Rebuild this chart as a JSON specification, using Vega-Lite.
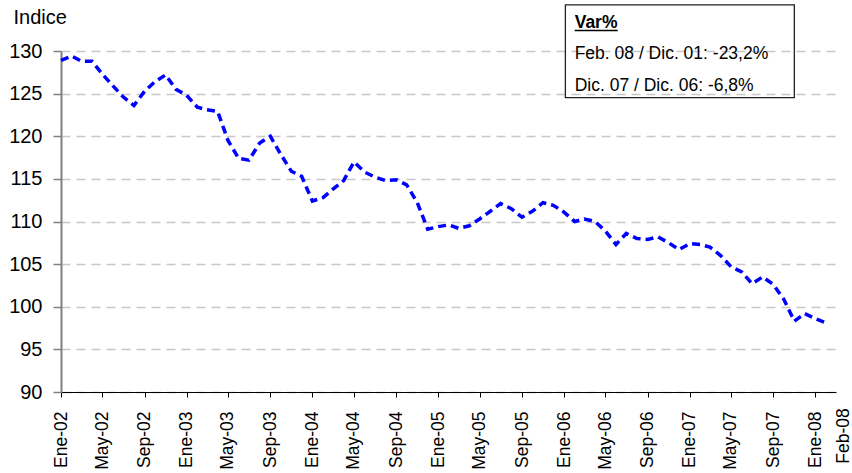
{
  "$schema": "https://vega.github.io/schema/vega-lite/v6.json",
  "width": 775,
  "height": 341,
  "autosize": {"type": "none"},
  "padding": {"left": 61, "top": 51, "right": 16, "bottom": 81},
  "background": "white",
  "config": {"view": {"stroke": null}, "font": "Liberation Sans"},
  "datasets": {
    "series": [
      {"date": "2002-01-01", "v": 128.9}, {"date": "2002-02-01", "v": 129.4}, {"date": "2002-03-01", "v": 128.8}, {"date": "2002-04-01", "v": 128.8},
      {"date": "2002-05-01", "v": 127.3}, {"date": "2002-06-01", "v": 125.9}, {"date": "2002-07-01", "v": 124.6}, {"date": "2002-08-01", "v": 123.6},
      {"date": "2002-09-01", "v": 125.3}, {"date": "2002-10-01", "v": 126.4}, {"date": "2002-11-01", "v": 127.2}, {"date": "2002-12-01", "v": 125.5},
      {"date": "2003-01-01", "v": 124.8}, {"date": "2003-02-01", "v": 123.4}, {"date": "2003-03-01", "v": 123.1}, {"date": "2003-04-01", "v": 122.9},
      {"date": "2003-05-01", "v": 119.5}, {"date": "2003-06-01", "v": 117.4}, {"date": "2003-07-01", "v": 117.2}, {"date": "2003-08-01", "v": 119.2},
      {"date": "2003-09-01", "v": 120.0}, {"date": "2003-10-01", "v": 117.9}, {"date": "2003-11-01", "v": 115.9}, {"date": "2003-12-01", "v": 115.3},
      {"date": "2004-01-01", "v": 112.4}, {"date": "2004-02-01", "v": 112.8}, {"date": "2004-03-01", "v": 113.8}, {"date": "2004-04-01", "v": 114.8},
      {"date": "2004-05-01", "v": 117.0}, {"date": "2004-06-01", "v": 115.8}, {"date": "2004-07-01", "v": 115.2}, {"date": "2004-08-01", "v": 114.8},
      {"date": "2004-09-01", "v": 114.9}, {"date": "2004-10-01", "v": 114.3}, {"date": "2004-11-01", "v": 112.2}, {"date": "2004-12-01", "v": 109.1},
      {"date": "2005-01-01", "v": 109.4}, {"date": "2005-02-01", "v": 109.6}, {"date": "2005-03-01", "v": 109.2}, {"date": "2005-04-01", "v": 109.5},
      {"date": "2005-05-01", "v": 110.3}, {"date": "2005-06-01", "v": 111.2}, {"date": "2005-07-01", "v": 112.1}, {"date": "2005-08-01", "v": 111.5},
      {"date": "2005-09-01", "v": 110.5}, {"date": "2005-10-01", "v": 111.2}, {"date": "2005-11-01", "v": 112.2}, {"date": "2005-12-01", "v": 111.9},
      {"date": "2006-01-01", "v": 111.1}, {"date": "2006-02-01", "v": 110.0}, {"date": "2006-03-01", "v": 110.3}, {"date": "2006-04-01", "v": 110.0},
      {"date": "2006-05-01", "v": 108.9}, {"date": "2006-06-01", "v": 107.3}, {"date": "2006-07-01", "v": 108.6}, {"date": "2006-08-01", "v": 108.0},
      {"date": "2006-09-01", "v": 107.9}, {"date": "2006-10-01", "v": 108.2}, {"date": "2006-11-01", "v": 107.5}, {"date": "2006-12-01", "v": 106.7},
      {"date": "2007-01-01", "v": 107.4}, {"date": "2007-02-01", "v": 107.3}, {"date": "2007-03-01", "v": 107.0}, {"date": "2007-04-01", "v": 106.0},
      {"date": "2007-05-01", "v": 104.7}, {"date": "2007-06-01", "v": 104.1}, {"date": "2007-07-01", "v": 102.7}, {"date": "2007-08-01", "v": 103.5},
      {"date": "2007-09-01", "v": 102.6}, {"date": "2007-10-01", "v": 100.9}, {"date": "2007-11-01", "v": 98.3}, {"date": "2007-12-01", "v": 99.2},
      {"date": "2008-01-01", "v": 98.6}, {"date": "2008-02-01", "v": 98.1}
    ],
    "box": [{"date": "2006-01-05", "date2": "2007-11-01", "v": 135.4, "v2": 124.52}],
    "head": [{"date": "2006-02-01", "v": 132.7, "text": "Var%"}],
    "notes": [
      {"date": "2006-02-01", "v": 129.06, "text": "Feb. 08 / Dic. 01: -23,2%"},
      {"date": "2006-02-01", "v": 125.34, "text": "Dic. 07 / Dic. 06: -6,8%"}
    ],
    "underline": [{"date": "2006-02-01", "date2": "2006-06-06", "v": 132.4}],
    "extra": [{"date": "2008-03-24", "v": 88.1, "text": "Feb-08"}]
  },
  "encoding": {
    "x": {
      "field": "date", "type": "temporal",
      "scale": {"type": "utc", "domain": [{"year": 2002, "month": 1, "date": 1, "utc": true}, {"year": 2008, "month": 3, "date": 1, "utc": true}], "nice": false},
      "axis": {
        "title": null, "grid": false,
        "values": [
          {"year": 2002, "month": 1, "date": 1, "utc": true}, {"year": 2002, "month": 5, "date": 1, "utc": true}, {"year": 2002, "month": 9, "date": 1, "utc": true},
          {"year": 2003, "month": 1, "date": 1, "utc": true}, {"year": 2003, "month": 5, "date": 1, "utc": true}, {"year": 2003, "month": 9, "date": 1, "utc": true},
          {"year": 2004, "month": 1, "date": 1, "utc": true}, {"year": 2004, "month": 5, "date": 1, "utc": true}, {"year": 2004, "month": 9, "date": 1, "utc": true},
          {"year": 2005, "month": 1, "date": 1, "utc": true}, {"year": 2005, "month": 5, "date": 1, "utc": true}, {"year": 2005, "month": 9, "date": 1, "utc": true},
          {"year": 2006, "month": 1, "date": 1, "utc": true}, {"year": 2006, "month": 5, "date": 1, "utc": true}, {"year": 2006, "month": 9, "date": 1, "utc": true},
          {"year": 2007, "month": 1, "date": 1, "utc": true}, {"year": 2007, "month": 5, "date": 1, "utc": true}, {"year": 2007, "month": 9, "date": 1, "utc": true},
          {"year": 2008, "month": 1, "date": 1, "utc": true}
        ],
        "labelExpr": "['Ene','Feb','Mar','Abr','May','Jun','Jul','Ago','Sep','Oct','Nov','Dic'][utcmonth(datum.value)] + '-' + utcFormat(datum.value, '%y')",
        "labelAngle": -90, "labelAlign": "right", "labelBaseline": "middle",
        "labelFontSize": 17.5, "labelColor": "#000000", "labelPadding": 14,
        "labelFlush": false, "labelOverlap": false, "labelBound": false,
        "tickSize": 5, "tickColor": "#000000", "tickWidth": 1,
        "domainColor": "#000000", "domainWidth": 1.2
      }
    },
    "y": {
      "field": "v", "type": "quantitative",
      "scale": {"domain": [90, 130], "nice": false, "zero": false},
      "axis": {
        "title": "Indice", "titleAngle": 0, "titleAlign": "left", "titleBaseline": "alphabetic",
        "titleX": -48, "titleY": -28, "titleFontSize": 20, "titleFontWeight": "normal", "titleColor": "#000000",
        "values": [90, 95, 100, 105, 110, 115, 120, 125, 130],
        "labelFontSize": 20, "labelColor": "#000000", "labelPadding": 11,
        "tickSize": 8, "tickColor": "#808080", "tickWidth": 1.5,
        "domainColor": "#808080", "domainWidth": 2,
        "grid": true, "gridDash": [9, 6], "gridColor": "#c8c8c8", "gridWidth": 1.5
      }
    }
  },
  "layer": [
    {
      "data": {"name": "series"},
      "mark": {"type": "line", "color": "#0000ff", "strokeWidth": 3.5, "strokeDash": [8, 5], "strokeCap": "butt"}
    },
    {
      "data": {"name": "box"},
      "mark": {"type": "rect", "fill": null, "fillOpacity": 0, "stroke": "#222222", "strokeWidth": 1.3},
      "encoding": {
        "x2": {"field": "date2"},
        "y2": {"field": "v2"}
      }
    },
    {
      "data": {"name": "head"},
      "mark": {"type": "text", "align": "left", "baseline": "alphabetic", "fontSize": 17.5, "fontWeight": "bold", "color": "#000000"},
      "encoding": {"text": {"field": "text"}}
    },
    {
      "data": {"name": "notes"},
      "mark": {"type": "text", "align": "left", "baseline": "alphabetic", "fontSize": 17.5, "color": "#000000"},
      "encoding": {"text": {"field": "text"}}
    },
    {
      "data": {"name": "underline"},
      "mark": {"type": "rule", "color": "#000000", "strokeWidth": 1.5},
      "encoding": {"x2": {"field": "date2"}}
    },
    {
      "data": {"name": "extra"},
      "mark": {"type": "text", "angle": 270, "align": "right", "baseline": "middle", "fontSize": 17.5, "color": "#000000"},
      "encoding": {"text": {"field": "text"}}
    }
  ]
}
